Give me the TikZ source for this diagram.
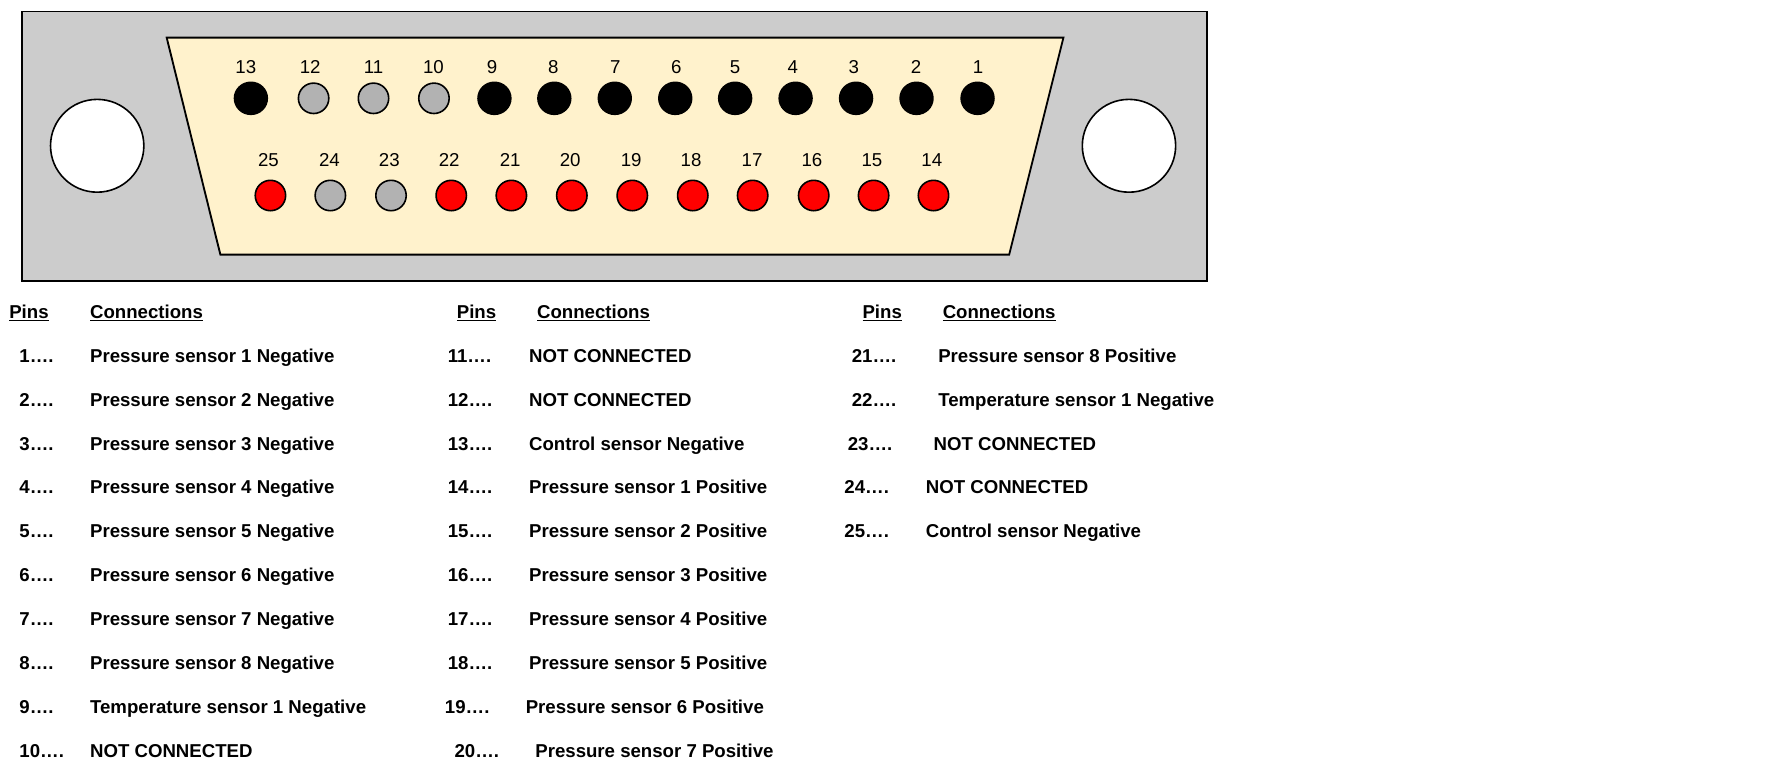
\documentclass[tikz,border=0pt]{standalone}
\usepackage{fontspec}
\setmainfont{Liberation Sans}
\usetikzlibrary{shapes.geometric}
\definecolor{plate}{RGB}{204,204,204}
\definecolor{shell}{RGB}{255,242,204}
\definecolor{nc}{RGB}{178,178,178}
\tikzset{
  platebox/.style={draw=black,fill=plate,line width=1.4pt,line join=miter},
  shellbox/.style={draw=black,fill=shell,line width=1.4pt,line join=miter},
  hole/.style={ellipse,draw=black,fill=white,line width=1.2pt,minimum width=70pt,minimum height=69.6pt,inner sep=0pt},
  pinbase/.style={ellipse,draw=black,line width=1.2pt,minimum width=22.8pt,minimum height=22.8pt,inner sep=0pt},
  pinblack/.style={pinbase,fill=black,minimum width=24.6pt,minimum height=24pt},
  pingray/.style={pinbase,fill=nc},
  pinred/.style={pinbase,fill=red},
  pinnum/.style={font=\fontsize{14}{16}\selectfont,inner sep=0pt,anchor=center},
  rowtext/.style={font=\fontsize{13.97}{17}\selectfont\bfseries,inner sep=0pt,anchor=base west},
}
\begin{document}
\begin{tikzpicture}[x=0.8476pt,y=-0.8476pt]
\useasboundingbox (0,0) rectangle (1568,689.3);
\fill[white] (0,0) rectangle (1568,689.3);
\path[platebox] (19.7,10.2) rectangle (1067.7,249);
\path[shellbox] (147.5,33.3) -- (941,33.3) -- (893,225.3) -- (195,225.3) -- cycle;
\node[hole] (holeL) at (86,129) {};
\node[hole] (holeR) at (999,129) {};
\foreach \n/\px/\st/\lx in {13/222/pinblack/217.5,12/277.5/pingray/274.5,11/330.5/pingray/330.5,10/384/pingray/383.5,9/437.5/pinblack/435.5,8/490.5/pinblack/489.5,7/544/pinblack/544.5,6/597.5/pinblack/598.5,5/650.5/pinblack/650.5,4/704/pinblack/701.5,3/757.5/pinblack/755.5,2/811/pinblack/810.5,1/865/pinblack/865.5}{
  \node[\st] (pin\n) at (\px,87) {};
  \node[pinnum] (lab\n) at (\lx,59.5) {\n};
}
\foreach \n/\px/\st/\lx in {25/239.3/pinred/237.5,24/292.3/pingray/291.5,23/346/pingray/344.5,22/399.3/pinred/397.5,21/452.5/pinred/451.5,20/506/pinred/504.5,19/559.5/pinred/558.5,18/613/pinred/611.5,17/666/pinred/665.5,16/720/pinred/718.5,15/773/pinred/771.5,14/826/pinred/824.5}{
  \node[\st] (pin\n) at (\px,173) {};
  \node[pinnum] (lab\n) at (\lx,141.5) {\n};
}
\foreach \id/\x/\t in {ha/8/Pins,hb/79.5/Connections,hc/404/Pins,hd/475/Connections,he/763/Pins,hf/834/Connections}{
  \node[rowtext] (\id) at (\x,281.6) {\underline{\t}};
}
\foreach \id/\x/\y/\t in {
 n1/17/320.4/1….,c1/79.5/320.4/Pressure sensor 1 Negative,
 n2/17/359.3/2….,c2/79.5/359.3/Pressure sensor 2 Negative,
 n3/17/398.2/3….,c3/79.5/398.2/Pressure sensor 3 Negative,
 n4/17/437.1/4….,c4/79.5/437.1/Pressure sensor 4 Negative,
 n5/17/476/5….,c5/79.5/476/Pressure sensor 5 Negative,
 n6/17/514.9/6….,c6/79.5/514.9/Pressure sensor 6 Negative,
 n7/17/553.8/7….,c7/79.5/553.8/Pressure sensor 7 Negative,
 n8/17/592.7/8….,c8/79.5/592.7/Pressure sensor 8 Negative,
 n9/17/631.6/9….,c9/79.5/631.6/Temperature sensor 1 Negative,
 n10/17/670.5/10….,c10/79.5/670.5/NOT CONNECTED,
 n11/396/320.4/11….,c11/468/320.4/NOT CONNECTED,
 n12/396/359.3/12….,c12/468/359.3/NOT CONNECTED,
 n13/396/398.2/13….,c13/468/398.2/Control sensor Negative,
 n14/396/437.1/14….,c14/468/437.1/Pressure sensor 1 Positive,
 n15/396/476/15….,c15/468/476/Pressure sensor 2 Positive,
 n16/396/514.9/16….,c16/468/514.9/Pressure sensor 3 Positive,
 n17/396/553.8/17….,c17/468/553.8/Pressure sensor 4 Positive,
 n18/396/592.7/18….,c18/468/592.7/Pressure sensor 5 Positive,
 n19/393.5/631.6/19….,c19/465/631.6/Pressure sensor 6 Positive,
 n20/402/670.5/20….,c20/473.5/670.5/Pressure sensor 7 Positive,
 n21/753.5/320.4/21….,c21/830/320.4/Pressure sensor 8 Positive,
 n22/753.5/359.3/22….,c22/830/359.3/Temperature sensor 1 Negative,
 n23/750/398.2/23….,c23/826/398.2/NOT CONNECTED,
 n24/747/437.1/24….,c24/819/437.1/NOT CONNECTED,
 n25/747/476/25….,c25/819/476/Control sensor Negative}{
  \node[rowtext] (\id) at (\x,\y) {\t};
}
\end{tikzpicture}
\end{document}
